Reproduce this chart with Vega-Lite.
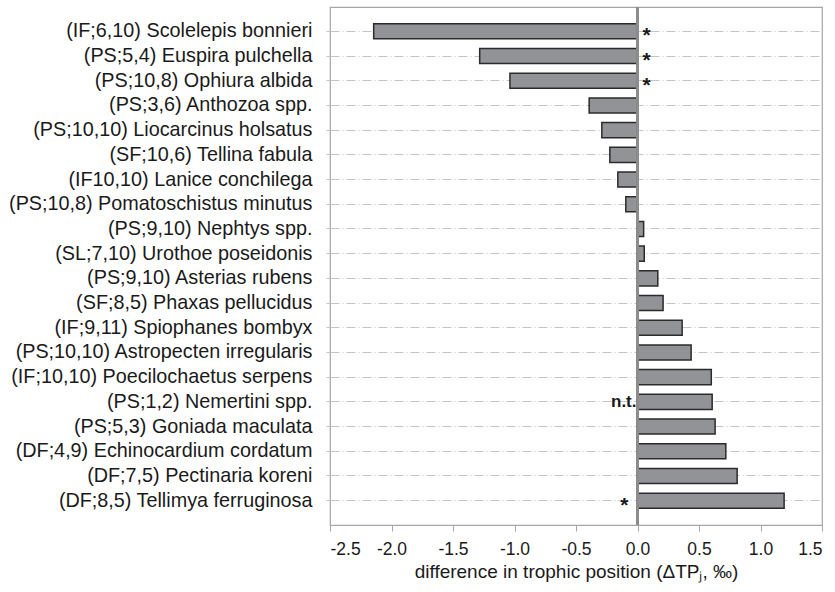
{
  "$schema": "https://vega.github.io/schema/vega-lite/v6.json",
  "width": 492,
  "height": 518,
  "autosize": {"type": "none"},
  "padding": {"left": 330, "top": 7, "right": 13, "bottom": 67},
  "config": {
    "font": "Liberation Sans",
    "view": {"stroke": "#a6a6a6", "strokeWidth": 1.2},
    "background": "white"
  },
  "data": {
    "values": [
      {"label": "(IF;6,10) Scolelepis bonnieri", "v": -2.145, "note": "*"},
      {"label": "(PS;5,4) Euspira pulchella", "v": -1.283, "note": "*"},
      {"label": "(PS;10,8)  Ophiura albida", "v": -1.037, "note": "*"},
      {"label": "(PS;3,6) Anthozoa spp.", "v": -0.393, "note": ""},
      {"label": "(PS;10,10) Liocarcinus holsatus", "v": -0.29, "note": ""},
      {"label": "(SF;10,6)  Tellina fabula", "v": -0.225, "note": ""},
      {"label": "(IF10,10) Lanice conchilega", "v": -0.16, "note": ""},
      {"label": "(PS;10,8) Pomatoschistus minutus", "v": -0.095, "note": ""},
      {"label": "(PS;9,10)  Nephtys spp.", "v": 0.05, "note": ""},
      {"label": "(SL;7,10) Urothoe poseidonis", "v": 0.055, "note": ""},
      {"label": "(PS;9,10) Asterias rubens", "v": 0.165, "note": ""},
      {"label": "(SF;8,5) Phaxas pellucidus", "v": 0.208, "note": ""},
      {"label": "(IF;9,11) Spiophanes bombyx", "v": 0.363, "note": ""},
      {"label": "(PS;10,10) Astropecten irregularis", "v": 0.436, "note": ""},
      {"label": "(IF;10,10) Poecilochaetus serpens", "v": 0.6, "note": ""},
      {"label": "(PS;1,2) Nemertini spp.", "v": 0.607, "note": "n.t."},
      {"label": "(PS;5,3) Goniada maculata", "v": 0.631, "note": ""},
      {"label": "(DF;4,9) Echinocardium cordatum", "v": 0.718, "note": ""},
      {"label": "(DF;7,5) Pectinaria koreni", "v": 0.81, "note": ""},
      {"label": "(DF;8,5) Tellimya ferruginosa", "v": 1.192, "note": "*"}
    ]
  },
  "encoding": {
    "y": {
      "field": "label",
      "type": "nominal",
      "sort": null,
      "scale": {"paddingInner": 0.39, "paddingOuter": 0.68},
      "axis": {
        "title": null,
        "domain": false,
        "grid": true,
        "gridColor": "#c4c4c4",
        "gridDash": [9, 3, 1, 3],
        "gridWidth": 1,
        "tickColor": "#c4c4c4",
        "tickSize": 5,
        "tickDash": [4, 2],
        "labelFontSize": 19.8,
        "labelColor": "#1a1a1a",
        "labelPadding": 13,
        "labelLimit": 340
      }
    }
  },
  "layer": [
    {
      "mark": {"type": "bar", "fill": "#929397", "stroke": "#2b2b2b", "strokeWidth": 1.5},
      "encoding": {
        "x": {
          "field": "v",
          "type": "quantitative",
          "scale": {"domain": [-2.5, 1.5], "nice": false, "zero": false},
          "axis": {
            "title": "difference in trophic position (ΔTPⱼ, ‰)",
            "titleFontSize": 19,
            "titleFontWeight": "normal",
            "titleColor": "#1a1a1a",
            "titlePadding": 5,
            "values": [-2.5, -2, -1.5, -1, -0.5, 0, 0.5, 1, 1.5],
            "format": ".1f",
            "labelExpr": "replace(datum.label, '−', '-')",
            "grid": false,
            "domainColor": "#a6a6a6",
            "domainWidth": 1.2,
            "tickColor": "#a6a6a6",
            "tickSize": 6,
            "labelFontSize": 17.5,
            "labelColor": "#1a1a1a",
            "labelPadding": 9
          }
        }
      }
    },
    {
      "mark": {"type": "rule", "color": "#8c8c8c", "strokeWidth": 1.8},
      "encoding": {"x": {"datum": 0, "type": "quantitative"}, "y": {"value": 0}, "y2": {"value": 518}}
    },
    {
      "transform": [{"filter": "datum.note == '*' && datum.v < 0"}],
      "mark": {"type": "text", "align": "left", "baseline": "middle", "dx": 5, "dy": 5, "fontSize": 21, "fontWeight": "bold", "color": "#1a1a1a"},
      "encoding": {"x": {"datum": 0, "type": "quantitative"}, "text": {"field": "note"}}
    },
    {
      "transform": [{"filter": "datum.note == '*' && datum.v > 0"}],
      "mark": {"type": "text", "align": "right", "baseline": "middle", "dx": -9, "dy": 5, "fontSize": 21, "fontWeight": "bold", "color": "#1a1a1a"},
      "encoding": {"x": {"datum": 0, "type": "quantitative"}, "text": {"field": "note"}}
    },
    {
      "transform": [{"filter": "datum.note == 'n.t.'"}],
      "mark": {"type": "text", "align": "right", "baseline": "middle", "dx": -1, "dy": 0, "fontSize": 17, "fontWeight": "bold", "color": "#1a1a1a"},
      "encoding": {"x": {"datum": 0, "type": "quantitative"}, "text": {"field": "note"}}
    }
  ]
}
